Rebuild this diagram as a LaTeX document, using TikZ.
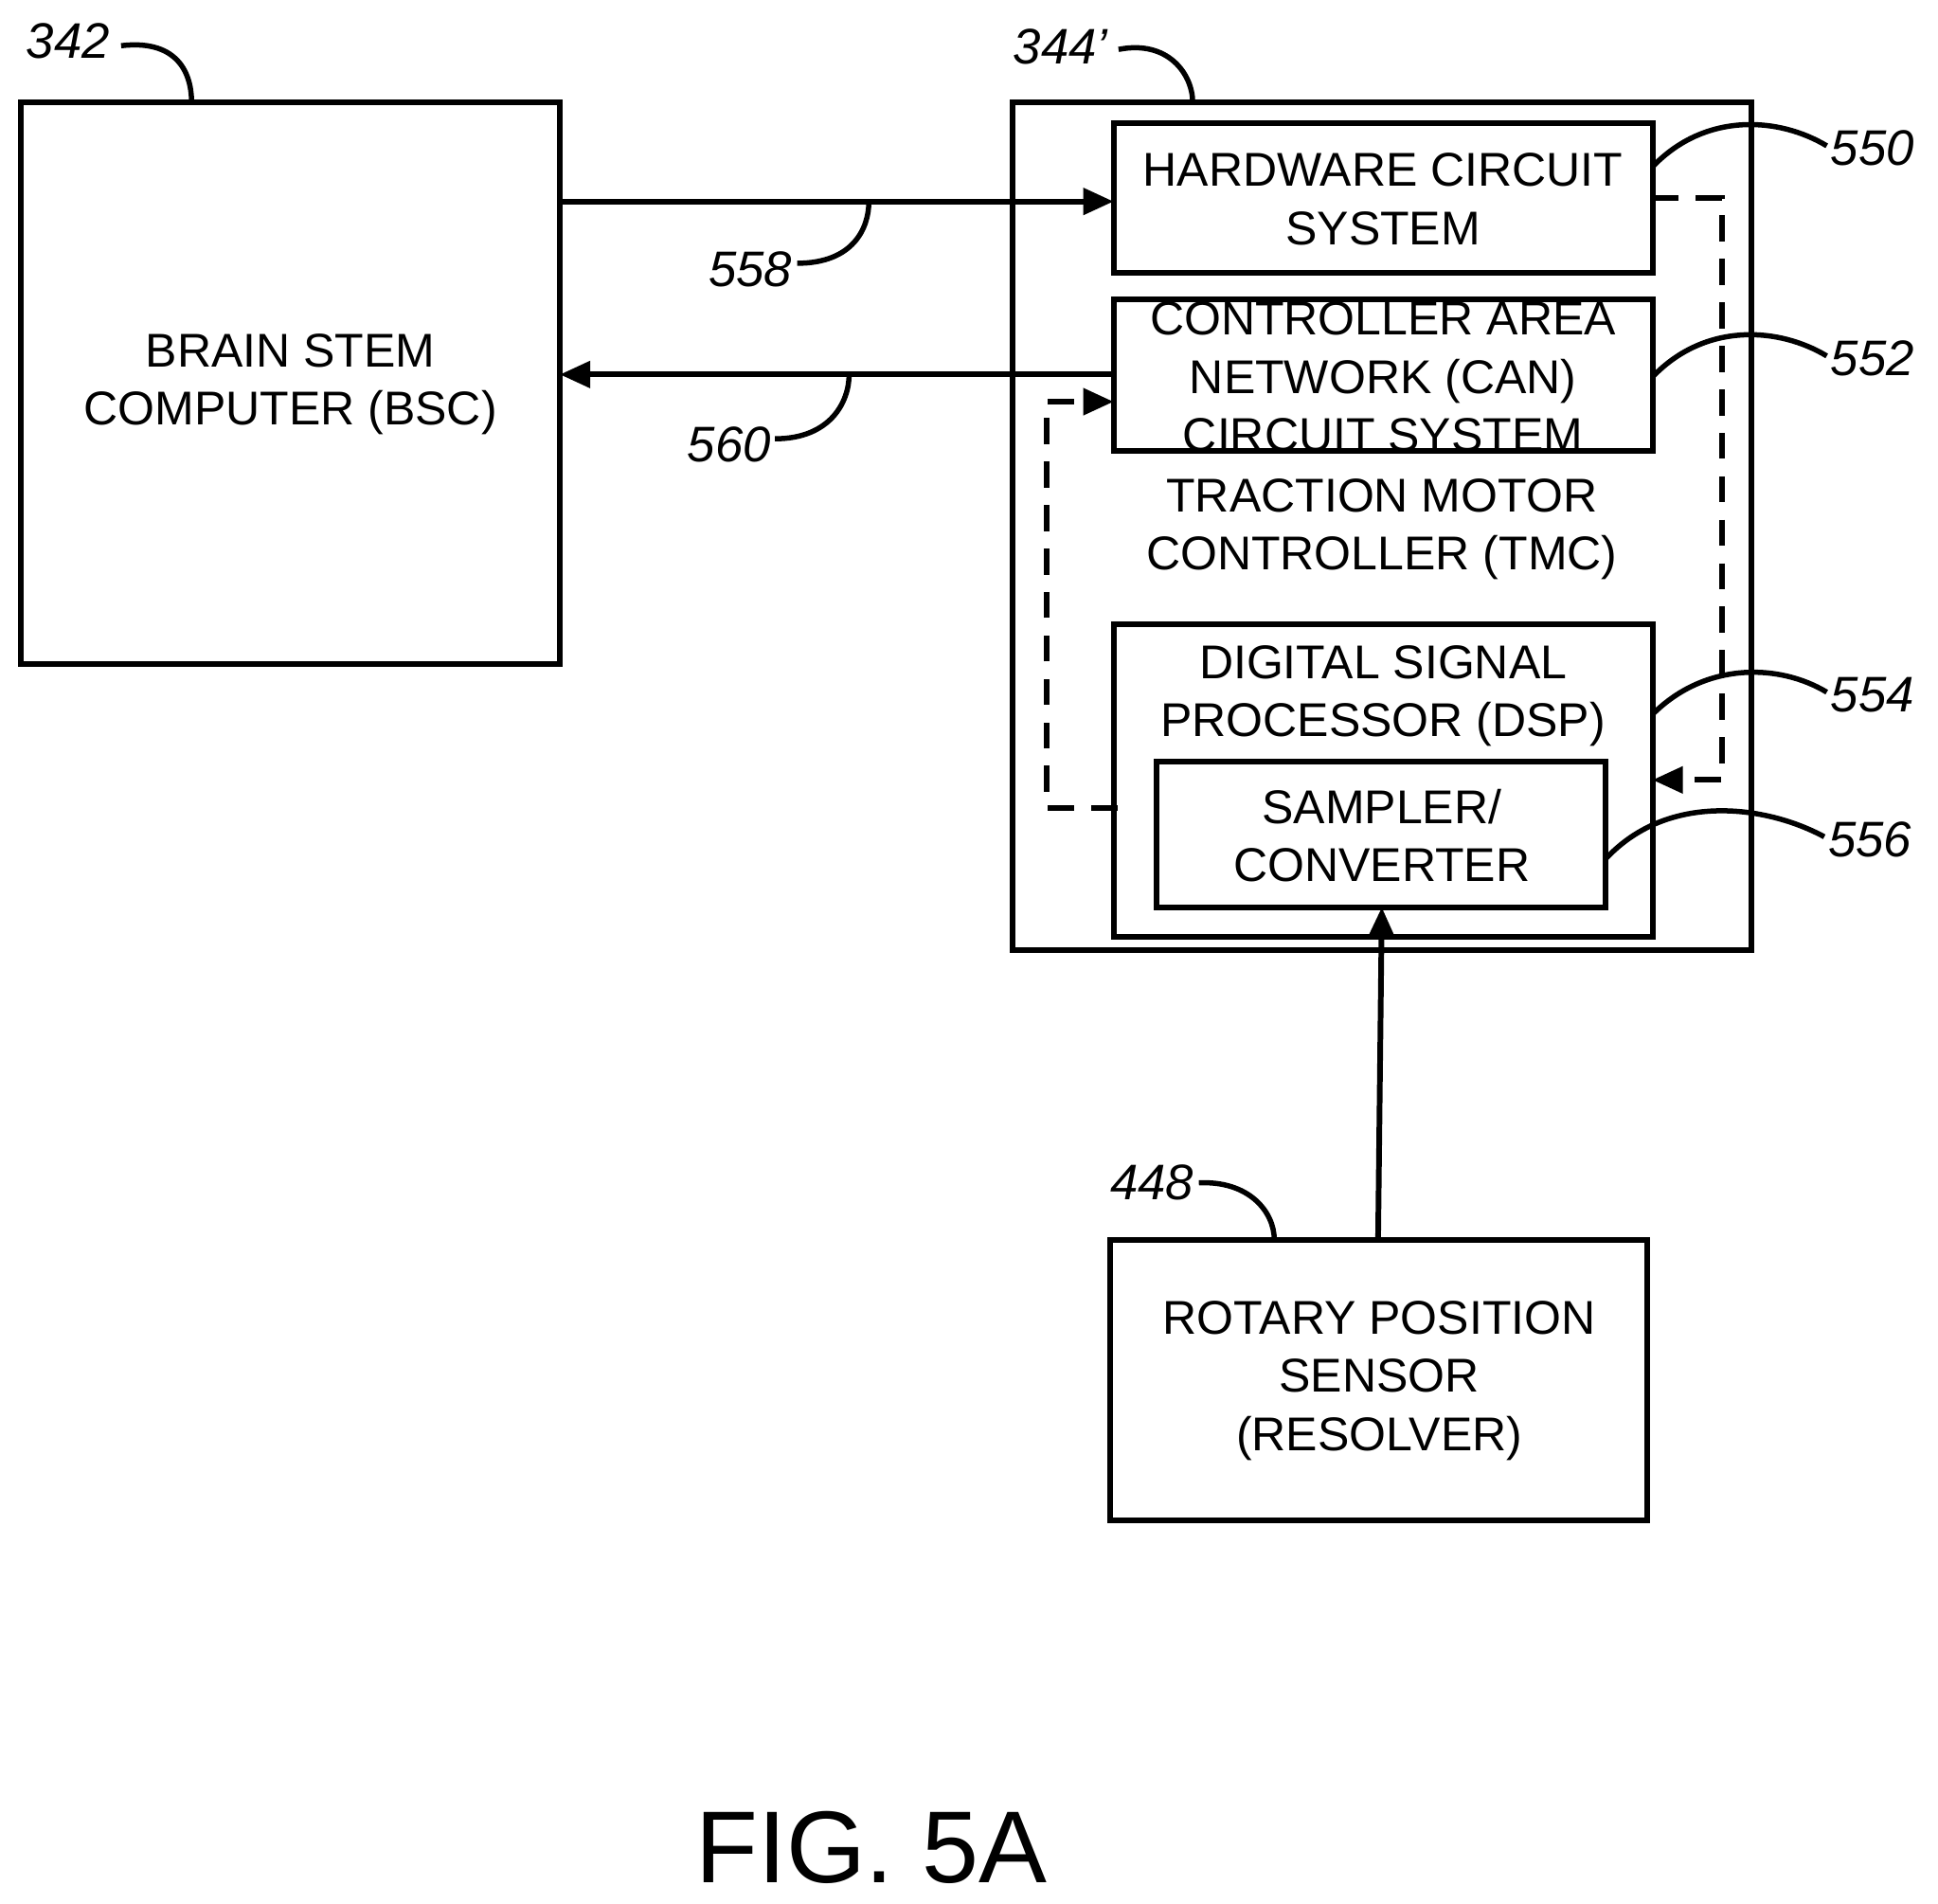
\documentclass[tikz,border=0pt]{standalone}
\usepackage{fontspec}
\setmainfont{Liberation Sans}
\usetikzlibrary{arrows.meta}
\begin{document}
\begin{tikzpicture}[x=0.01cm,y=-0.01cm,
 box/.style={draw,line width=1.3pt},
 txt/.style={align=center,font=\fontsize{10.9}{13.4}\selectfont},
 lab/.style={font=\fontsize{11.5}{13}\selectfont\itshape},
 arr/.style={line width=1.3pt,-{Triangle[length=7pt,width=6pt]}},
 dsh/.style={arr,dash pattern=on 6pt off 4pt},
 lead/.style={line width=1.2pt}]
\useasboundingbox (0,0) rectangle (1568,1540);
\draw[box] (17,83) rectangle (453,537);
\node[txt] (bsc) at (235,311) {BRAIN STEM\\COMPUTER (BSC)};
\draw[box] (819,83) rectangle (1417,769);
\node[txt] (tmc) at (1118,428) {TRACTION MOTOR\\CONTROLLER (TMC)};
\draw[box] (901,100) rectangle (1337,221);
\node[txt] (hw) at (1119,161) {HARDWARE CIRCUIT\\SYSTEM};
\draw[box] (901,242) rectangle (1337,365);
\node[txt] (can) at (1119,305) {CONTROLLER AREA\\NETWORK (CAN)\\CIRCUIT SYSTEM};
\draw[box] (901,505) rectangle (1337,758);
\node[txt] (dsp) at (1119,563) {DIGITAL SIGNAL\\PROCESSOR (DSP)};
\draw[box] (936,616) rectangle (1299,734);
\node[txt] (smp) at (1118,676) {SAMPLER/\\CONVERTER};
\draw[box] (898,1003) rectangle (1333,1230);
\node[txt] (res) at (1116,1117) {ROTARY POSITION\\SENSOR\\(RESOLVER)};
\coordinate (a1) at (453,163); \coordinate (a2) at (901,163);
\coordinate (b1) at (901,303); \coordinate (b2) at (453,303);
\draw[arr] (a1) -- (a2);
\draw[arr] (b1) -- (b2);
\coordinate (h1) at (1337,160); \coordinate (h2) at (1337,631);
\draw[dsh] (h1) -- (1393,160) -- (1393,631) -- (h2);
\coordinate (s1) at (904,654); \coordinate (s2) at (901,325);
\draw[dsh] (s1) -- (847,654) -- (847,325) -- (s2);
\coordinate (r1) at (1115,1003); \coordinate (r2) at (1118,734);
\draw[arr] (r1) -- (r2);
\node[lab] (l342) at (55,33) {342};
\draw[lead] (98,37) .. controls (140,32) and (155,55) .. (155,83);
\node[lab] (l344) at (858,38) {344'};
\draw[lead] (905,40) .. controls (945,32) and (965,60) .. (965,83);
\node[lab] (l550) at (1515,120) {550};
\draw[lead] (1337,135) .. controls (1380,90) and (1440,95) .. (1478,118);
\node[lab] (l552) at (1515,290) {552};
\draw[lead] (1337,305) .. controls (1380,260) and (1440,265) .. (1478,288);
\node[lab] (l554) at (1515,562) {554};
\draw[lead] (1337,578) .. controls (1380,535) and (1440,537) .. (1478,560);
\node[lab] (l556) at (1513,679) {556};
\draw[lead] (1299,695) .. controls (1350,640) and (1430,652) .. (1476,677);
\node[lab] (l558) at (607,218) {558};
\draw[lead] (645,213) .. controls (690,213) and (703,185) .. (703,163);
\node[lab] (l560) at (590,360) {560};
\draw[lead] (627,355) .. controls (672,355) and (687,325) .. (687,303);
\node[lab] (l448) at (932,957) {448};
\draw[lead] (970,957) .. controls (1010,955) and (1031,980) .. (1031,1003);
\node[font=\fontsize{23.5}{28}\selectfont] (fig) at (705,1495) {FIG. 5A};
\end{tikzpicture}
\end{document}
